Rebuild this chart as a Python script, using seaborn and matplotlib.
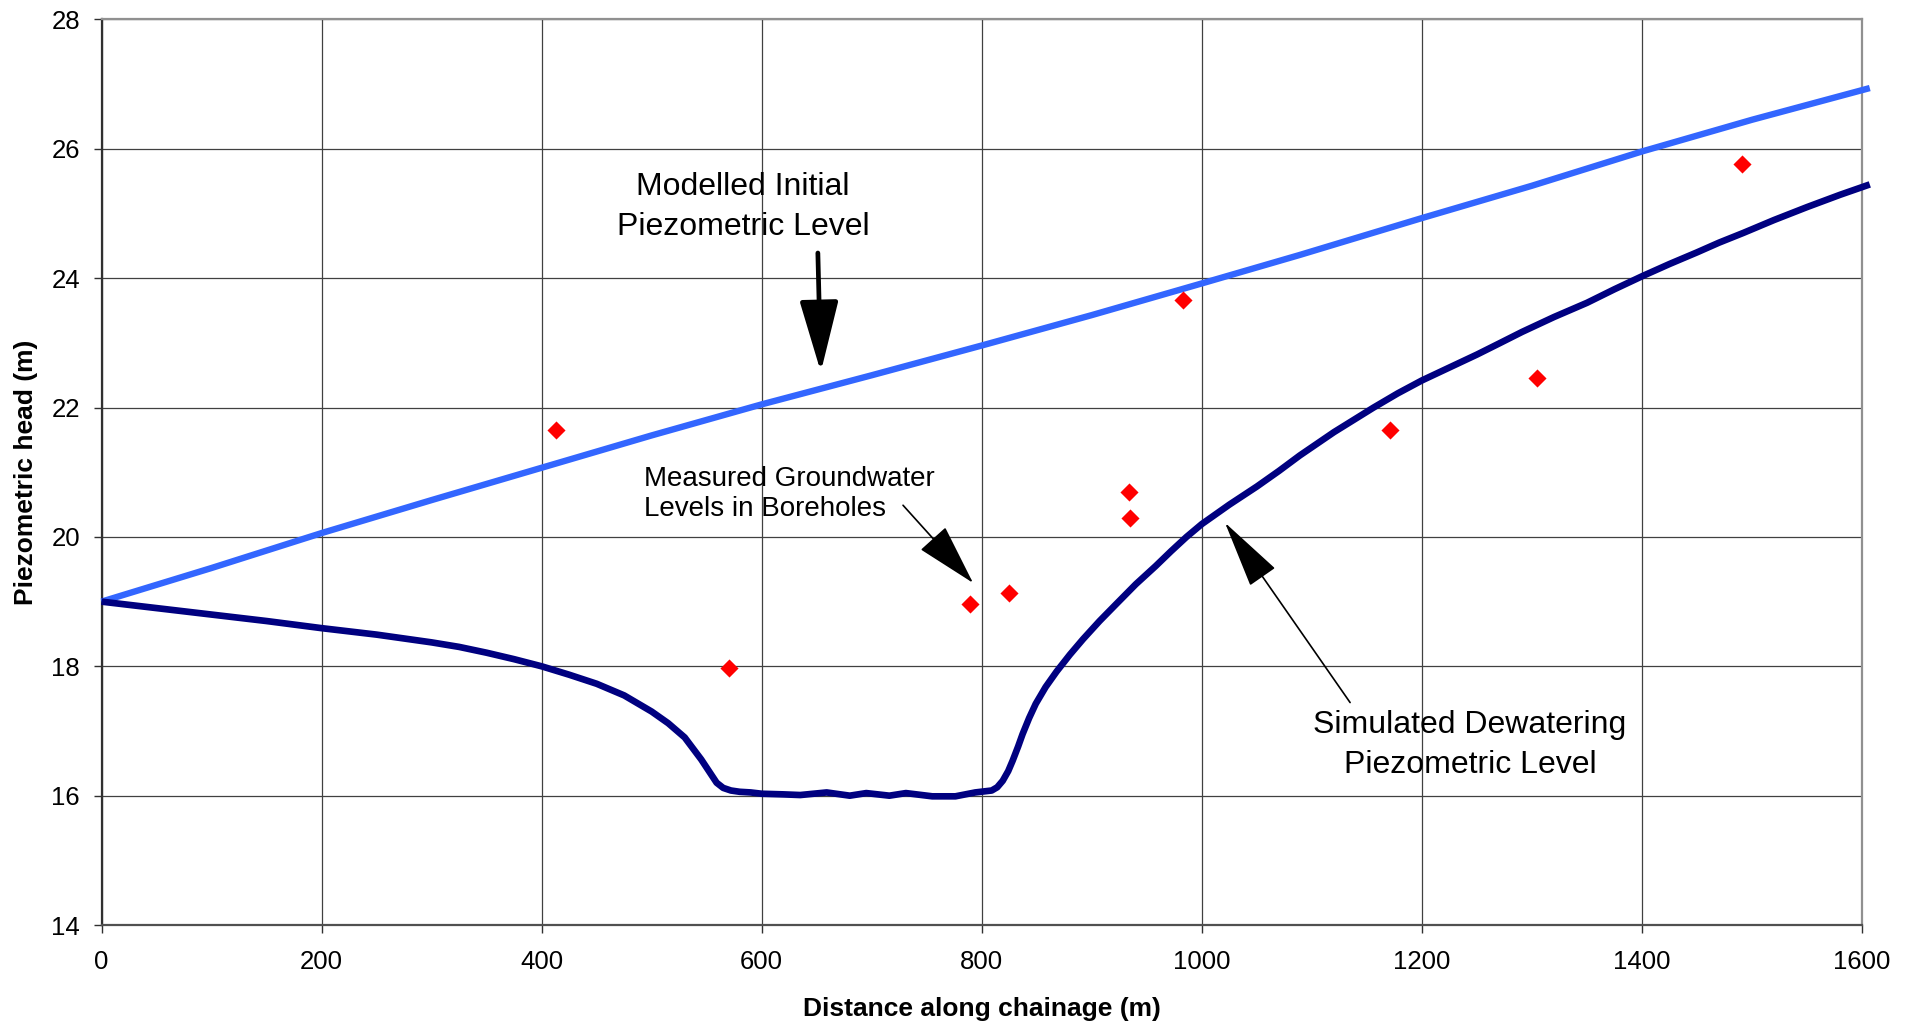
import seaborn as sns
import pandas as pd
import matplotlib
matplotlib.use("Agg")
import matplotlib.pyplot as plt

#-----------------------------------------------------------------------------------------------------------------------
"""Data read off the chart"""
# Modelled initial piezometric level
initial_x = [0, 100, 200, 300, 400, 500, 600, 700, 800, 900, 1000, 1089, 1200, 1300, 1400, 1500, 1607]
initial_y = [19.0, 19.52, 20.06, 20.57, 21.07, 21.57, 22.05, 22.5, 22.96, 23.43, 23.92, 24.36, 24.93,
             25.43, 25.96, 26.45, 26.94]

# Simulated dewatering piezometric level
dewater_x = [0, 50, 100, 150, 200, 250, 300, 325, 350, 375, 400, 425, 450, 475, 500, 515, 530, 545, 552,
             559, 565, 572, 580, 590, 600, 620, 635, 659, 680, 695, 716, 731, 755, 776, 794, 809, 814, 819,
             824, 828, 833, 837, 843, 849, 858, 868, 880, 892, 907, 922, 940, 958, 972, 986, 1000, 1025,
             1050, 1070, 1089, 1120, 1156, 1178, 1200, 1225, 1250, 1270, 1291, 1320, 1350, 1375, 1400, 1425,
             1450, 1470, 1492, 1520, 1550, 1580, 1607]
dewater_y = [19.0, 18.9, 18.8, 18.7, 18.59, 18.49, 18.37, 18.3, 18.21, 18.11, 18.0, 17.87, 17.73, 17.55,
             17.3, 17.12, 16.9, 16.56, 16.38, 16.2, 16.12, 16.08, 16.06, 16.05, 16.03, 16.02, 16.01, 16.05,
             16.0, 16.04, 16.0, 16.04, 15.99, 15.99, 16.05, 16.08, 16.13, 16.23, 16.38, 16.54, 16.76, 16.95,
             17.2, 17.42, 17.68, 17.92, 18.18, 18.42, 18.7, 18.96, 19.27, 19.55, 19.78, 20.0, 20.2, 20.5,
             20.78, 21.02, 21.26, 21.62, 22.0, 22.22, 22.42, 22.62, 22.82, 22.99, 23.17, 23.4, 23.62, 23.83,
             24.03, 24.22, 24.4, 24.55, 24.7, 24.9, 25.1, 25.29, 25.45]

# Measured groundwater levels in boreholes
bh_x = [413, 570, 789, 825, 934, 935, 983, 1171, 1305, 1491]
bh_y = [21.66, 17.98, 18.97, 19.13, 20.70, 20.30, 23.66, 21.65, 22.46, 25.77]

x_ticks = [0, 200, 400, 600, 800, 1000, 1200, 1400, 1600]
y_ticks = [14, 16, 18, 20, 22, 24, 26, 28]

df_init = pd.DataFrame({'x': initial_x, 'y': initial_y})
df_dew = pd.DataFrame({'x': dewater_x, 'y': dewater_y})
df_bh = pd.DataFrame({'x': bh_x, 'y': bh_y})

#-----------------------------------------------------------------------------------------------------------------------
"""Style"""
sns.set_style("ticks")
plt.rcParams['font.family'] = ['Liberation Sans', 'DejaVu Sans']
plt.rcParams['text.color'] = 'black'
plt.rcParams['axes.labelcolor'] = 'black'

fig = plt.figure(figsize=(19.12, 10.26), dpi=100)
ax = fig.add_axes([0.0531, 0.0984, 0.9208, 0.8826])

#-----------------------------------------------------------------------------------------------------------------------
"""Plotting"""
sns.lineplot(data=df_init, x='x', y='y', color='#3366FF', lw=4.6, estimator=None, ax=ax, zorder=3)
sns.lineplot(data=df_dew, x='x', y='y', color='#000080', lw=4.8, estimator=None, ax=ax, zorder=3)
for ln in ax.lines:
    ln.set_clip_on(False)
    ln.set_solid_capstyle('butt')
    ln.set_solid_joinstyle('round')
sns.scatterplot(data=df_bh, x='x', y='y', marker='D', color='#FF0000', s=85, linewidth=0, ax=ax, zorder=4)

#-----------------------------------------------------------------------------------------------------------------------
"""Axes"""
ax.set_xlim(0, 1600)
ax.set_ylim(14, 28)
ax.set_xticks(x_ticks)
ax.set_yticks(y_ticks)
ax.grid(True, color='#404040', lw=0.9)
ax.set_axisbelow(True)

ax.spines['left'].set_color('#303030')
ax.spines['bottom'].set_color('#505050')
ax.spines['top'].set_color('#909090')
ax.spines['right'].set_color('#909090')
for s in ax.spines.values():
    s.set_linewidth(1.6)

ax.tick_params(axis='both', direction='out', length=6, width=1, colors='#303030', labelcolor='black',
               labelsize=18.5)
ax.tick_params(axis='x', pad=12)
ax.tick_params(axis='y', pad=9.5)

ax.set_xlabel('Distance along chainage (m)', fontsize=19, fontweight='bold')
ax.set_ylabel('Piezometric head (m)', fontsize=19, fontweight='bold')
ax.xaxis.set_label_coords(0.5, -0.079)
ax.yaxis.set_label_coords(-0.036, 0.5)

#-----------------------------------------------------------------------------------------------------------------------
"""Annotations"""
ax.text(583, 25.1, 'Modelled Initial\nPiezometric Level', ha='center', va='center', fontsize=23,
        linespacing=1.42)
ax.annotate('', xy=(653.7, 22.55), xytext=(651, 24.39),
            arrowprops=dict(arrowstyle='-|>,head_length=2.2,head_width=0.6', mutation_scale=20,
                            color='black', lw=3.4, shrinkA=0, shrinkB=0))

ax.text(493, 20.66, 'Measured Groundwater\nLevels in Boreholes', ha='left', va='center', fontsize=20,
        linespacing=1.2)
ax.annotate('', xy=(792, 19.29), xytext=(728.4, 20.49),
            arrowprops=dict(arrowstyle='-|>,head_length=2.0,head_width=0.55', mutation_scale=20,
                            color='black', lw=1.2, shrinkA=0, shrinkB=0))

ax.text(1243.7, 16.78, 'Simulated Dewatering\nPiezometric Level', ha='center', va='center', fontsize=23,
        linespacing=1.42)
ax.annotate('', xy=(1021, 20.22), xytext=(1134.7, 17.44),
            arrowprops=dict(arrowstyle='-|>,head_length=2.2,head_width=0.5', mutation_scale=20,
                            color='black', lw=1.2, shrinkA=0, shrinkB=0))

#-----------------------------------------------------------------------------------------------------------------------
"""Save"""
fig.savefig('out.png', dpi=100, facecolor='white')
